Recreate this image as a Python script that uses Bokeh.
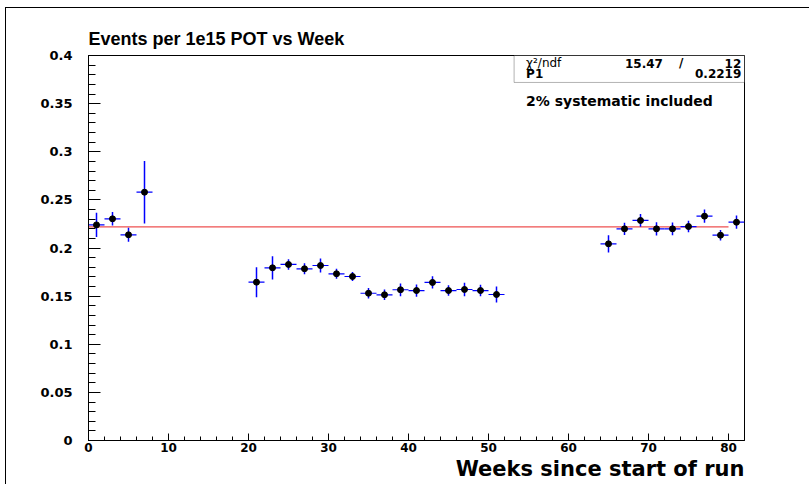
from bokeh.plotting import figure
from bokeh.models import (Range1d, SingleIntervalTicker, CustomJSTickFormatter, Title,
                          BoxAnnotation, Label, ColumnDataSource)
from bokeh.embed import file_html
from bokeh.resources import INLINE

# ---- data ----
weeks = [1, 3, 5, 7,
         21, 23, 25, 27, 29, 31, 33, 35, 37, 39, 41, 43, 45, 47, 49, 51,
         65, 67, 69, 71, 73, 75, 77, 79, 81]
rate = [0.2240, 0.2303, 0.2137, 0.2580,
        0.1645, 0.1794, 0.1829, 0.1784, 0.1818, 0.1732, 0.1704, 0.1530, 0.1514,
        0.1566, 0.1558, 0.1642, 0.1558, 0.1569, 0.1558, 0.1517,
        0.2043, 0.2199, 0.2286, 0.2199, 0.2199, 0.2223, 0.2331, 0.2133, 0.2268]
err = [0.0125, 0.0070, 0.0073, 0.0325,
       0.0156, 0.0120, 0.0055, 0.0057, 0.0073, 0.0052, 0.0047, 0.0055, 0.0055,
       0.0066, 0.0064, 0.0064, 0.0055, 0.0070, 0.0060, 0.0083,
       0.0090, 0.0064, 0.0066, 0.0069, 0.0066, 0.0060, 0.0069, 0.0055, 0.0069]
half_bin = 1.0
fit_value = 0.2219
fit_range = [0, 80]
chi2 = "15.47"
ndf = "12"
x_range = [0, 82]
y_range = [0, 0.4]

src = ColumnDataSource(dict(
    x=weeks, y=rate,
    xl=[w - half_bin for w in weeks], xr=[w + half_bin for w in weeks],
    yl=[r - e for r, e in zip(rate, err)], yh=[r + e for r, e in zip(rate, err)],
))

p = figure(width=804, height=477, output_backend="svg", toolbar_location=None,
           x_range=Range1d(*x_range), y_range=Range1d(*y_range),
           min_border_left=82, min_border_right=66, min_border_top=47, min_border_bottom=45)
p.styles = {"border-left": "1px solid black", "border-top": "1px solid black",
            "margin-left": "5px", "margin-top": "7px"}
p.background_fill_color = "white"
p.border_fill_color = "white"
p.outline_line_color = "black"
p.outline_line_width = 1
p.grid.visible = False

# title
p.title.text = "Events per 1e15 POT vs Week"
p.title.align = "left"
p.title.text_font = "Liberation Sans"
p.title.text_font_style = "bold"
p.title.text_font_size = "18px"
p.title.text_color = "black"
p.title.standoff = 13

# axes
for ax in (p.xaxis[0], p.yaxis[0]):
    ax.axis_line_color = "black"
    ax.major_tick_out = 0
    ax.minor_tick_out = 0
    ax.major_tick_line_color = "black"
    ax.minor_tick_line_color = "black"
    ax.major_label_text_font = "DejaVu Sans"
    ax.major_label_text_font_style = "bold"
    ax.major_label_text_color = "black"

p.xaxis.major_label_text_font_size = "12px"
p.yaxis.major_label_text_font_size = "13px"

p.xaxis.ticker = SingleIntervalTicker(interval=10, num_minor_ticks=5)
p.xaxis.major_tick_in = 7
p.xaxis.minor_tick_in = 4
p.xaxis.major_label_standoff = 2

p.yaxis.ticker = SingleIntervalTicker(interval=0.05, num_minor_ticks=5)
p.yaxis.formatter = CustomJSTickFormatter(code="return Number(tick.toFixed(3)).toString();")
p.yaxis.major_tick_in = 12
p.yaxis.minor_tick_in = 7
p.yaxis.major_label_standoff = 16

p.add_layout(Title(text="Weeks since start of run", align="right", text_font="DejaVu Sans",
                   text_font_style="bold", text_font_size="21px", text_color="black",
                   standoff=0), "below")

# fit line
p.segment(x0=[fit_range[0]], x1=[fit_range[1]], y0=[fit_value], y1=[fit_value],
          line_color="#ee5050", line_width=1.2)

# error bars
p.segment(x0="xl", x1="xr", y0="y", y1="y", source=src, line_color="blue", line_width=1.2)
p.segment(x0="x", x1="x", y0="yl", y1="yh", source=src, line_color="blue", line_width=1.5)
p.scatter(x="x", y="y", source=src, marker="circle", size=6, fill_color="black", line_color="black")

# stats box
box = BoxAnnotation(left=53.2, right=x_range[1], top=y_range[1], bottom=0.372,
                    fill_color="white", fill_alpha=1, line_color="black", line_width=1)
p.add_layout(box)

def lab(x, y, text, align="left", bold=True, size="12px"):
    p.add_layout(Label(x=x, y=y, text=text, text_align=align, text_baseline="middle",
                       text_font="DejaVu Sans", text_font_style="bold" if bold else "normal",
                       text_font_size=size, text_color="black"))

lab(54.7, 0.3917, "χ²/ndf", bold=False)
lab(71.8, 0.3917, chi2, align="right")
lab(74.1, 0.3917, "/", align="center")
lab(81.6, 0.3917, ndf, align="right")
lab(54.7, 0.3808, "P1")
lab(81.6, 0.3808, f"{fit_value:.4f}", align="right")
lab(54.7, 0.3532, "2% systematic included", size="14px")

open("out.html", "w").write(file_html(p, INLINE))
